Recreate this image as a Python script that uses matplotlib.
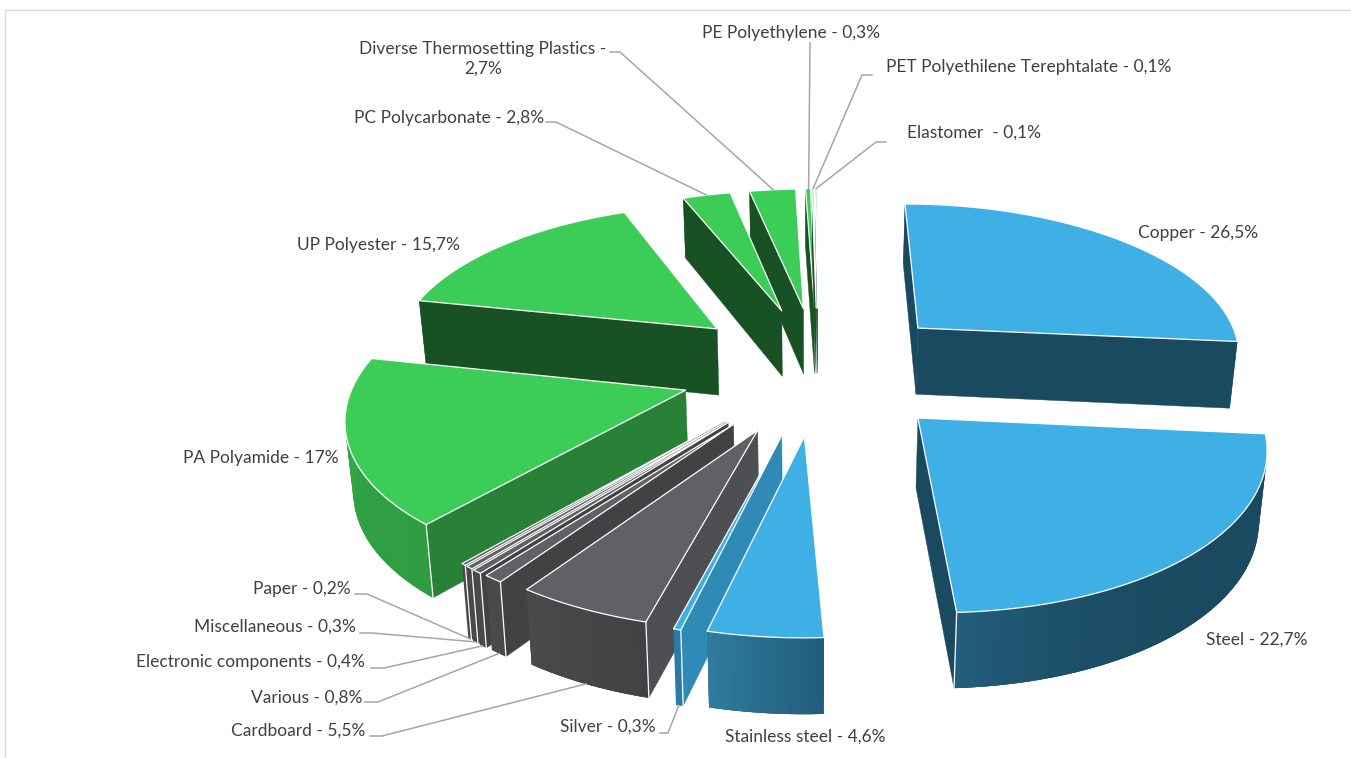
import numpy as np
import matplotlib
matplotlib.use("Agg")
import matplotlib.pyplot as plt
from matplotlib.patches import Polygon
from matplotlib.colors import to_rgb

plt.rcParams['font.family'] = ['Lato', 'DejaVu Sans']

materials = ["Copper", "Steel", "Stainless steel", "Silver", "Cardboard", "Various",
             "Electronic components", "Miscellaneous", "Paper", "PA Polyamide", "UP Polyester",
             "PC Polycarbonate", "Diverse Thermosetting Plastics", "PE Polyethylene",
             "PET Polyethilene Terephtalate", "Elastomer "]
shares = [26.5, 22.7, 4.6, 0.3, 5.5, 0.8, 0.4, 0.3, 0.2, 17, 15.7, 2.8, 2.7, 0.3, 0.1, 0.1]

explode_x = [.342, .315, -.016, -.081, -.151, -.222, -.238, -.243, -.248, -.372, -.294, -.091, -.021, .015, .020, .025]
explode_y = [-.306, .282, .390, .385, .355, .320, .310, .305, .300, .110, -.300, -.430, -.445, -.450, -.450, -.450]

BLUE, GREY, GREEN = '#3eb0e5', '#606165', '#3ccc58'
top_colors = [BLUE, BLUE, BLUE, BLUE, GREY, GREY, GREY, GREY, GREY, GREEN, GREEN, GREEN, GREEN, GREEN, GREEN, GREEN]
wall_colors = ['#1a4a60', '#1a4a60', '#2f8ab5', '#2f8ab5', '#4d4f52', '#424245', '#424245', '#424245', '#424245',
               '#288136', '#185224', '#185224', '#185224', '#185224', '#185224', '#185224']
outer_from = ['#1a4a60', '#1a4a60', '#215d7a', '#2a7ca5', '#424245', '#4a4a4d', '#4a4a4d', '#4a4a4d', '#4a4a4d',
              '#2f9c42', '#185224', '#185224', '#185224', '#185224', '#185224', '#185224']
outer_to = ['#1a4a60', '#235f7d', '#2f7c9e', '#2a7ca5', '#4a4a4d', '#4a4a4d', '#4a4a4d', '#4a4a4d', '#4a4a4d',
            '#35ab4a', '#185224', '#185224', '#185224', '#185224', '#185224', '#185224']
outer_power = [1, 5, 1, 1, 1, 1, 1, 1, 1, 1, 1, 1, 1, 1, 1, 1]

label_pos = {
    "Copper": (1138, 233), "Steel": (1206, 640), "Stainless steel": (725, 737), "Silver": (560, 727),
    "Cardboard": (231, 731), "Various": (251, 698), "Electronic components": (136, 662),
    "Miscellaneous": (194, 627), "Paper": (253, 589), "PA Polyamide": (183, 458),
    "UP Polyester": (297, 245), "PC Polycarbonate": (354, 118), "PE Polyethylene": (702, 33),
    "PET Polyethilene Terephtalate": (886, 67), "Elastomer ": (907, 133),
}
leaders = {
    "Silver": ((660, 733), (668, 733), 'bottom'),
    "Cardboard": ((370, 736), (382, 736), 'bottom'),
    "Various": ((365, 702), (378, 702), 'bottom'),
    "Electronic components": ((371, 668), (384, 668), 'bottom'),
    "Miscellaneous": ((360, 633), (372, 633), 'bottom'),
    "Paper": ((355, 594), (367, 594), 'bottom'),
    "PC Polycarbonate": ((546, 122), (556, 122), 'top'),
    "Diverse Thermosetting Plastics": ((610, 52), (620, 52), 'top'),
    "PE Polyethylene": ((810, 43), (810, 43), 'top'),
    "PET Polyethilene Terephtalate": ((872, 75), (862, 75), 'top'),
    "Elastomer ": ((886, 142), (876, 142), 'top'),
}

CX, CY, R, RB, K = 810.0, 373.0, 329.0, 153.2, 0.141
DEPTH, DEPTH_Y, SHRINK = 68.0, 6.0, 0.018
FS = 12.55


def project(x, y, z=0.0):
    """Unit-pie coordinates (y toward viewer, z=1 on the lower face) to canvas."""
    x, y = np.asarray(x, float), np.asarray(y, float)
    w = 1 - K * y
    px = CX + R * x / w * (1 - SHRINK * z)
    py = CY + RB * y / w + z * (DEPTH + DEPTH_Y * y)
    return px, py


def mix(c0, c1, t):
    a, b = np.array(to_rgb(c0)), np.array(to_rgb(c1))
    return tuple(a + (b - a) * t)


def side(p, a, b):
    return (b[0] - a[0]) * (p[1] - a[1]) - (b[1] - a[1]) * (p[0] - a[0])


fig = plt.figure(figsize=(13.51, 7.58), dpi=100)
ax = fig.add_axes([0, 0, 1, 1])
ax.set_xlim(0, 1351)
ax.set_ylim(758, 0)
ax.axis('off')

ax.plot([5, 5, 1351], [758, 10, 10], color='#d9d9d9', lw=1, zorder=0)

edges = np.concatenate([[0], np.cumsum(shares)]) * 360 / sum(shares)
order = np.argsort(explode_y)
z = 1
anchors = {}
for i in order:
    th = np.radians(np.linspace(edges[i], edges[i + 1], max(6, int(shares[i] * 12))))
    ex, ey = explode_x[i], explode_y[i]
    ux, uy = ex + np.sin(th), ey - np.cos(th)
    tx, ty = project(ux, uy)
    bx, by = project(ux, uy, 1)
    ax0, ay0 = project(ex, ey)
    ax1, ay1 = project(ex, ey, 1)
    mid = len(th) // 2
    anchors[materials[i]] = {'top': (tx[mid], ty[mid]), 'bottom': (bx[mid], by[mid])}

    # radial walls: drawn only where they hang outside the upper face
    inner = ((tx[mid] + ax0) / 2, (ty[mid] + ay0) / 2)
    visible = {}
    for j in (0, -1):
        a, b = (ax0, ay0), (tx[j], ty[j])
        below = ((a[0] + b[0]) / 2, (a[1] + b[1]) / 2 + 30)
        visible[j] = side(inner, a, b) * side(below, a, b) < 0
        if visible[j]:
            wall = [(ax0, ay0), (tx[j], ty[j]), (bx[j], by[j]), (ax1, ay1)]
            ax.add_patch(Polygon(wall, closed=True, fc=wall_colors[i], ec=wall_colors[i], lw=0.3, zorder=z))
            z += 1

    # curved rim: a base shape, then overlapping shaded bands
    rim = np.column_stack([np.r_[tx, bx[::-1]], np.r_[ty, by[::-1]]])
    ax.add_patch(Polygon(rim, closed=True, fc=outer_from[i], ec='none', zorder=z))
    z += 1
    if outer_from[i] != outer_to[i]:
        n = len(th) - 1
        for j in range(n):
            t = ((j + 0.5) / n) ** outer_power[i]
            k = min(j + 2, n)
            quad = np.column_stack([np.r_[tx[j:k + 1], bx[j:k + 1][::-1]], np.r_[ty[j:k + 1], by[j:k + 1][::-1]]])
            ax.add_patch(Polygon(quad, closed=True, fc=mix(outer_from[i], outer_to[i], t), ec='none', zorder=z))
            z += 1

    for j in (0, -1):
        if visible[j] and uy[j] > 0.2:
            ax.plot([tx[j], bx[j]], [ty[j], by[j]], color='white', lw=0.9, zorder=z)
    z += 1

    # upper face
    top = np.column_stack([np.r_[ax0, tx], np.r_[ay0, ty]])
    ax.add_patch(Polygon(top, closed=True, fc=top_colors[i], ec='white', lw=0.9, zorder=z, joinstyle='round'))
    z += 1

z += 1
for name, share in zip(materials, shares):
    text = f"{name} - {str(share).replace('.', ',')}%"
    if name == "Diverse Thermosetting Plastics":
        ax.text(483, 59, text.replace(" - ", " -\n"), ha='center', va='center', fontsize=FS,
                color='#404040', linespacing=1.25, zorder=z)
    else:
        lx, ly = label_pos[name]
        ax.text(lx, ly, text, ha='left', va='center', fontsize=FS, color='#404040', zorder=z)

for name, (p0, p1, face) in leaders.items():
    tx_, ty_ = anchors[name][face]
    ax.plot([p0[0], p1[0], float(tx_)], [p0[1], p1[1], float(ty_)], color='#a6a6a6', lw=1.1, zorder=z - 1)

fig.savefig('out.png', dpi=100)
